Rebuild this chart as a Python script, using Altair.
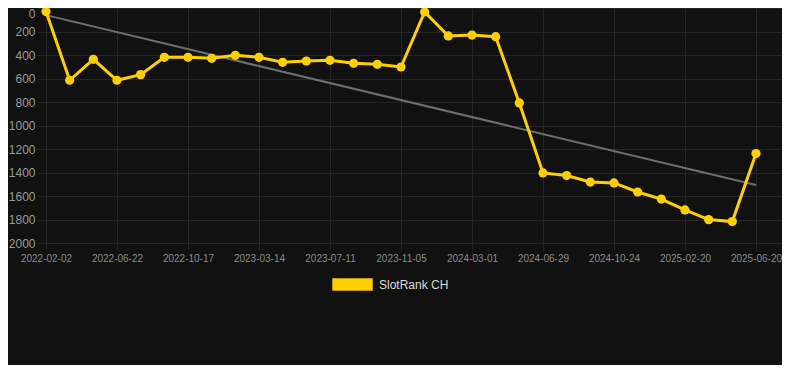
import altair as alt
import pandas as pd

# --- data ---
tick_labels = ["2022-02-02", "2022-06-22", "2022-10-17", "2023-03-14", "2023-07-11",
               "2023-11-05", "2024-03-01", "2024-06-29", "2024-10-24", "2025-02-20",
               "2025-06-20"]
rank_values = [30, 615, 437, 615, 567, 420, 420, 428, 403, 420, 462, 451, 445, 471, 479,
               502, 34, 238, 230, 244, 808, 1404, 1426, 1481, 1489, 1566, 1626, 1719,
               1801, 1818, 1239]
series_name = "SlotRank CH"

df = pd.DataFrame({
    "idx": list(range(len(rank_values))),
    "rank": rank_values,
    "series": [series_name] * len(rank_values),
})

YELLOW = "#FFD000"
FONT = "Liberation Sans, Arial, Helvetica, sans-serif"
GRID = "#252525"

label_js = "[" + ",".join("'%s'" % t for t in tick_labels) + "]"

x_enc = alt.X(
    "idx:Q",
    scale=alt.Scale(domain=[-0.2535, 31.10], nice=False, zero=False),
    axis=alt.Axis(
        values=list(range(0, len(rank_values), 3)),
        labelExpr=label_js + "[round(datum.value / 3)]",
        title=None,
        grid=True,
        gridColor=GRID,
        domain=False,
        ticks=True,
        tickColor=GRID,
        tickSize=7,
        labelColor="#8a8a8a",
        labelFontSize=10,
        labelFont=FONT,
        labelPadding=3,
    ),
)

y_enc = alt.Y(
    "rank:Q",
    scale=alt.Scale(domain=[0, 2000], reverse=True, nice=False),
    axis=alt.Axis(
        values=list(range(0, 2001, 200)),
        format="d",
        title=None,
        grid=True,
        gridColor=GRID,
        domain=False,
        ticks=True,
        tickColor=GRID,
        tickSize=3,
        labelColor="#9a9a9a",
        labelFontSize=12,
        labelFont=FONT,
        labelPadding=2,
        labelBaseline={"condition": {"test": "datum.value == 0", "value": "top"},
                       "value": "middle"},
    ),
)

trend = alt.Chart(df).transform_regression("idx", "rank", method="linear").mark_line(
    color="#6e6e6e", strokeWidth=2
).encode(x=x_enc, y=y_enc)

line = alt.Chart(df).mark_line(color=YELLOW, strokeWidth=3).encode(x=x_enc, y=y_enc)

rect_path = "M-1,-0.3L1,-0.3L1,0.3L-1,0.3Z"

points = alt.Chart(df).mark_point(filled=True, size=85, opacity=1).encode(
    x=x_enc,
    y=y_enc,
    color=alt.Color(
        "series:N",
        scale=alt.Scale(domain=[series_name], range=[YELLOW]),
        legend=alt.Legend(
            title=None,
            orient="none",
            legendX=292,
            legendY=256,
            padding=0,
            symbolType=rect_path,
            symbolSize=1600,
            symbolFillColor=YELLOW,
            symbolStrokeColor="#b89600",
            symbolStrokeWidth=1,
            symbolOpacity=1,
            labelColor="#dddddd",
            labelFontSize=12,
            labelFont=FONT,
            labelOffset=6,
        ),
    ),
)

chart = alt.layer(trend, line, points).properties(
    width=742,
    height=235,
    background="#111111",
    padding={"left": 32, "top": 0, "right": 0, "bottom": 122},
    autosize=alt.AutoSizeParams(type="none"),
).configure_view(stroke=None, fill="#111111")

chart.save("out.html", embed_options={"renderer": "svg", "actions": False})
